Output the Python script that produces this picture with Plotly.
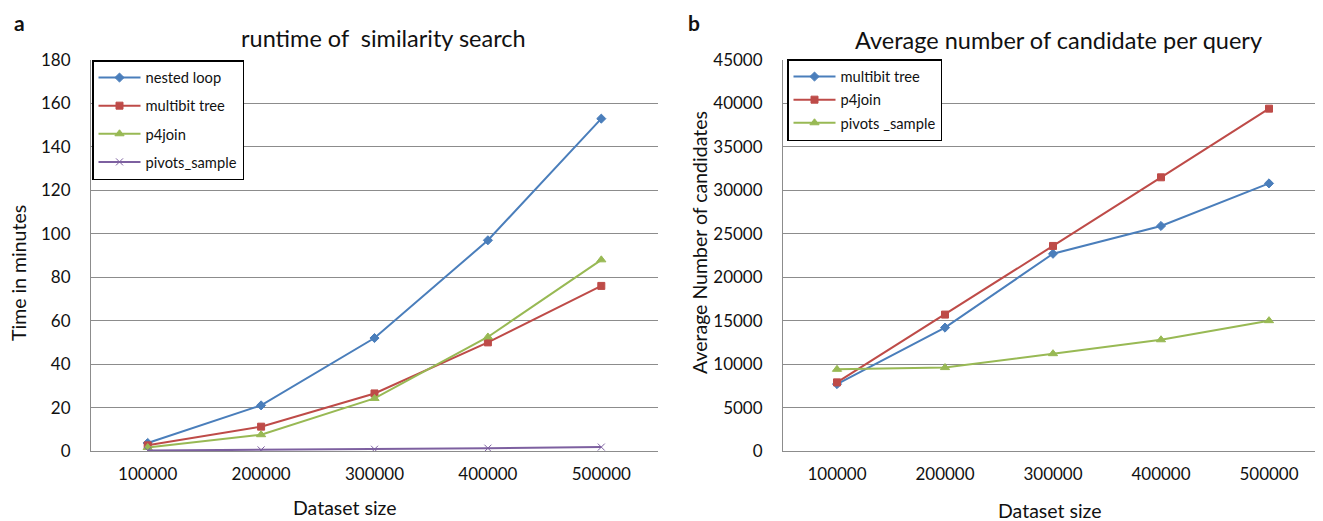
import plotly.graph_objects as go

categories = ["100000", "200000", "300000", "400000", "500000"]

# Panel a: runtime (minutes)
a_nested_loop = [3.7, 21, 52, 97, 153]
a_multibit_tree = [2.6, 11.2, 26.5, 50, 76]
a_p4join = [1.6, 7.5, 24.2, 52.5, 88]
a_pivots_sample = [0.2, 0.5, 0.8, 1.3, 1.8]

# Panel b: average number of candidates
b_multibit_tree = [7700, 14200, 22700, 25900, 30800]
b_p4join = [7900, 15700, 23600, 31500, 39400]
b_pivots_sample = [9400, 9600, 11200, 12800, 15000]

a_yticks = list(range(0, 181, 20))
b_yticks = list(range(0, 45001, 5000))

BLUE = "#4A7EBB"
RED = "#BE4B48"
GREEN = "#98B954"
PURPLE = "#7D60A0"
FONT = "Lato"
GRID = "#8C8C8C"

# page body has an 8px margin; figure is sized so it ends at the window edge
OFF = 8
W, H = 1323 - OFF, 521 - OFF

def px(x):
    return (x - OFF) / W

def py(y):
    return 1 - (y - OFF) / H

fig = go.Figure()

def add(x, y, name, color, symbol, size, xa, ya, legend):
    fig.add_trace(go.Scatter(
        x=x, y=y, name=name, mode="lines+markers",
        line=dict(color=color, width=2),
        marker=dict(color=color, symbol=symbol, size=size,
                    line=dict(color=color, width=1)),
        xaxis=xa, yaxis=ya, legend=legend, legendgroup=name + legend,
    ))

add(categories, a_nested_loop, "nested loop", BLUE, "diamond", 7, "x", "y", "legend")
add(categories, a_multibit_tree, "multibit tree", RED, "square", 7, "x", "y", "legend")
add(categories, a_p4join, "p4join", GREEN, "triangle-up", 8, "x", "y", "legend")
add(categories, a_pivots_sample, "pivots_sample", PURPLE, "x-thin", 7, "x", "y", "legend")

add(categories, b_multibit_tree, "multibit tree", BLUE, "diamond", 7, "x2", "y2", "legend2")
add(categories, b_p4join, "p4join", RED, "square", 7, "x2", "y2", "legend2")
add(categories, b_pivots_sample, "pivots _sample", GREEN, "triangle-up", 8, "x2", "y2", "legend2")

ydom = [py(451), py(60)]
xcommon = dict(type="category", range=[-0.5, 4.5], showgrid=False, automargin=False,
               showline=True, linecolor=GRID, linewidth=1,
               tickfont=dict(family=FONT, size=17, color="#111"),
               ticks="", ticklabelstandoff=8, fixedrange=True)
ycommon = dict(showgrid=True, gridcolor=GRID, gridwidth=1, automargin=False,
               showline=True, linecolor=GRID, linewidth=1, zeroline=False,
               tickfont=dict(family=FONT, size=17, color="#111"), tickformat="d",
               ticks="", ticklabelstandoff=16, fixedrange=True)

fig.update_layout(
    width=W, height=H,
    margin=dict(l=0, r=0, t=0, b=0, autoexpand=False),
    paper_bgcolor="white", plot_bgcolor="white",
    showlegend=True,
    xaxis=dict(domain=[px(91), px(658)], anchor="y", **xcommon),
    yaxis=dict(domain=ydom, anchor="x", range=[0, 180], tickvals=a_yticks, **ycommon),
    xaxis2=dict(domain=[px(783), 1.0], anchor="y2", **xcommon),
    yaxis2=dict(domain=ydom, anchor="x2", range=[0, 45000], tickvals=b_yticks, **ycommon),
    legend=dict(x=px(92), y=py(60), xanchor="left", yanchor="top",
                bgcolor="white", bordercolor="black", borderwidth=1.5,
                font=dict(family=FONT, size=14.7, color="#111"),
                tracegroupgap=6, itemwidth=42),
    legend2=dict(x=px(787), y=py(59), xanchor="left", yanchor="top",
                 bgcolor="white", bordercolor="black", borderwidth=1.5,
                 font=dict(family=FONT, size=14.7, color="#111"),
                 tracegroupgap=1, itemwidth=42),
)

ann = [
    dict(text="<b>a</b>", x=12, y=22, size=21, anchor="left"),
    dict(text="<b>b</b>", x=686, y=22, size=21, anchor="left"),
    dict(text="runtime of  similarity search", x=383, y=38, size=23.5, anchor="center"),
    dict(text="Average number of candidate per query", x=1058, y=40, size=23.5, anchor="center"),
    dict(text="Dataset size", x=345, y=507, size=19.5, anchor="center"),
    dict(text="Dataset size", x=1050, y=510, size=19.5, anchor="center"),
]
for a in ann:
    fig.add_annotation(text=a["text"], x=px(a["x"]), y=py(a["y"]),
                       xref="paper", yref="paper", showarrow=False,
                       xanchor=a["anchor"], yanchor="middle",
                       font=dict(family=FONT, size=a["size"], color="#111"))

fig.add_annotation(text="Time in minutes", x=px(18), y=py(273),
                   xref="paper", yref="paper", showarrow=False, textangle=-90,
                   xanchor="center", yanchor="middle",
                   font=dict(family=FONT, size=19.5, color="#111"))
fig.add_annotation(text="Average Number of candidates", x=px(700), y=py(243),
                   xref="paper", yref="paper", showarrow=False, textangle=-90,
                   xanchor="center", yanchor="middle",
                   font=dict(family=FONT, size=19.5, color="#111"))

fig.write_html("out.html")
